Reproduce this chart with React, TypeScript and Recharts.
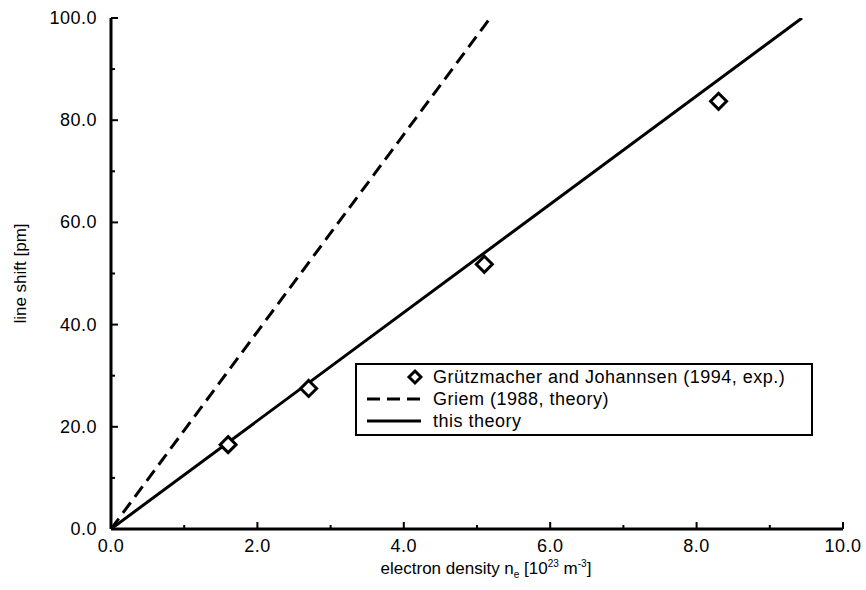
import {
  ComposedChart,
  Line,
  Scatter,
  XAxis,
  YAxis,
  Legend,
} from 'recharts';

const FONT = '"Liberation Sans", Arial, Helvetica, sans-serif';

// measured shifts (Grützmacher and Johannsen 1994)
const expDensity = [1.6, 2.7, 5.1, 8.3];
const expShift = [16.5, 27.5, 51.8, 83.7];

// straight lines through origin, end points where they leave the frame
const griemDensity = [0, 5.18];
const griemShift = [0, 100];
const theoryDensity = [0, 9.44];
const theoryShift = [0, 100];

const xTicks = [0, 1, 2, 3, 4, 5, 6, 7, 8, 9, 10];
const yTicks = [0, 10, 20, 30, 40, 50, 60, 70, 80, 90, 100];
const xMajorStep = 2;
const yMajorStep = 20;

const LEGEND_ITEMS = [
  { key: 'exp', label: 'Grützmacher and Johannsen (1994, exp.)' },
  { key: 'griem', label: 'Griem (1988, theory)' },
  { key: 'theory', label: 'this theory' },
];

const toPoints = (xs: number[], ys: number[]) => xs.map((x, i) => ({ x, y: ys[i] }));

const expData = toPoints(expDensity, expShift);
const griemData = toPoints(griemDensity, griemShift);
const theoryData = toPoints(theoryDensity, theoryShift);

const isMajor = (v: number, step: number) => Math.abs(v / step - Math.round(v / step)) < 1e-6;

// inward tick marks, labels only on major ticks
const BottomTick = ({ x, y, payload }: any) => {
  const major = isMajor(payload.value, xMajorStep);
  return (
    <g>
      <line x1={x} x2={x} y1={y} y2={y - (major ? 7 : 4)} stroke="#000" strokeWidth={2} />
      {major && (
        <text
          x={x}
          y={y + 23}
          textAnchor="middle"
          fontFamily={FONT}
          fontSize={18}
          letterSpacing={0.5}
          fill="#000"
        >
          {payload.value.toFixed(1)}
        </text>
      )}
    </g>
  );
};

const TopTick = ({ x, y, payload }: any) => {
  const major = isMajor(payload.value, xMajorStep);
  return <line x1={x} x2={x} y1={y} y2={y + (major ? 7 : 4)} stroke="#000" strokeWidth={2} />;
};

const LeftTick = ({ x, y, payload }: any) => {
  const major = isMajor(payload.value, yMajorStep);
  return (
    <g>
      <line x1={x} x2={x + (major ? 7 : 4)} y1={y} y2={y} stroke="#000" strokeWidth={2} />
      {major && (
        <text
          x={x - 14}
          y={y + 6}
          textAnchor="end"
          fontFamily={FONT}
          fontSize={18}
          letterSpacing={0.5}
          fill="#000"
        >
          {payload.value.toFixed(1)}
        </text>
      )}
    </g>
  );
};

const RightTick = ({ x, y, payload }: any) => {
  const major = isMajor(payload.value, yMajorStep);
  return <line x1={x} x2={x - (major ? 7 : 4)} y1={y} y2={y} stroke="#000" strokeWidth={2} />;
};

const Diamond = ({ cx, cy, size = 8 }: any) => (
  <polygon
    points={`${cx},${cy - size} ${cx + size},${cy} ${cx},${cy + size} ${cx - size},${cy}`}
    fill="#fff"
    stroke="#000"
    strokeWidth={3}
  />
);

const XLabel = ({ viewBox }: any) => {
  const cx = viewBox.x + viewBox.width / 2 + 9;
  return (
    <text x={cx} y={viewBox.y + 45} textAnchor="middle" fontFamily={FONT} fontSize={17} fill="#000">
      electron density n
      <tspan fontSize={10} dy={4}>e</tspan>
      <tspan dy={-4}> [10</tspan>
      <tspan fontSize={10} dy={-7}>23</tspan>
      <tspan dy={7}> m</tspan>
      <tspan fontSize={10} dy={-7}>-3</tspan>
      <tspan dy={7}>]</tspan>
    </text>
  );
};

const YLabel = ({ viewBox }: any) => {
  const x = 20;
  const y = viewBox.y + viewBox.height / 2;
  return (
    <text
      x={x}
      y={y}
      transform={`rotate(-90, ${x}, ${y})`}
      textAnchor="middle"
      dominantBaseline="central"
      fontFamily={FONT}
      fontSize={17}
      fill="#000"
    >
      line shift [pm]
    </text>
  );
};

const LegendSymbol = ({ kind }: { kind: string }) => (
  <svg width={58} height={20} style={{ display: 'block' }}>
    {kind === 'exp' && <Diamond cx={50} cy={10} size={6} />}
    {kind === 'griem' && (
      <line x1={2} x2={56} y1={10} y2={10} stroke="#000" strokeWidth={3} strokeDasharray="13 7" />
    )}
    {kind === 'theory' && <line x1={2} x2={56} y1={10} y2={10} stroke="#000" strokeWidth={3} />}
  </svg>
);

const LegendBox = () => (
  <div
    style={{
      border: '2.5px solid #000',
      background: '#fff',
      boxSizing: 'border-box',
      width: 458,
      height: 73,
      padding: '1px 0 0 8px',
      fontFamily: FONT,
      fontSize: 18,
      letterSpacing: 0.5,
      color: '#000',
    }}
  >
    {LEGEND_ITEMS.map((it) => (
      <div key={it.key} style={{ display: 'flex', alignItems: 'center', height: 22 }}>
        <LegendSymbol kind={it.key} />
        <span style={{ marginLeft: 10, whiteSpace: 'nowrap' }}>{it.label}</span>
      </div>
    ))}
  </div>
);

export default function App() {
  return (
    <div style={{ position: 'absolute', left: 0, top: 0, width: 866, height: 590, background: '#fff' }}>
      <ComposedChart width={866} height={590} margin={{ top: 18, right: 23, bottom: 0, left: 0 }}>
        <XAxis
          dataKey="x"
          type="number"
          domain={[0, 10]}
          ticks={xTicks}
          interval={0}
          height={61}
          tickSize={0}
          tickMargin={0}
          tickLine={false}
          axisLine={{ stroke: '#000', strokeWidth: 3 }}
          tick={<BottomTick />}
          label={<XLabel />}
          allowDataOverflow
        />
        <XAxis
          xAxisId="top"
          orientation="top"
          dataKey="x"
          type="number"
          domain={[0, 10]}
          ticks={xTicks}
          interval={0}
          height={0}
          tickSize={0}
          tickMargin={0}
          tickLine={false}
          axisLine={{ stroke: '#000', strokeWidth: 3 }}
          tick={<TopTick />}
          allowDataOverflow
        />
        <YAxis
          type="number"
          domain={[0, 100]}
          ticks={yTicks}
          interval={0}
          width={111}
          tickSize={0}
          tickMargin={0}
          tickLine={false}
          axisLine={{ stroke: '#000', strokeWidth: 3 }}
          tick={<LeftTick />}
          label={<YLabel />}
          allowDataOverflow
        />
        <YAxis
          yAxisId="right"
          orientation="right"
          type="number"
          domain={[0, 100]}
          ticks={yTicks}
          interval={0}
          width={0}
          tickSize={0}
          tickMargin={0}
          tickLine={false}
          axisLine={{ stroke: '#000', strokeWidth: 3 }}
          tick={<RightTick />}
          allowDataOverflow
        />
        <Legend
          layout="vertical"
          align="center"
          verticalAlign="middle"
          content={<LegendBox />}
          wrapperStyle={{ left: 355, top: 363, width: 458, height: 73 }}
        />
        <Line
          data={griemData}
          dataKey="y"
          stroke="#000"
          strokeWidth={3}
          strokeDasharray="13 7"
          dot={false}
          activeDot={false}
          legendType="none"
          isAnimationActive={false}
        />
        <Line
          data={theoryData}
          dataKey="y"
          stroke="#000"
          strokeWidth={3}
          dot={false}
          activeDot={false}
          legendType="none"
          isAnimationActive={false}
        />
        <Scatter data={expData} dataKey="y" shape={<Diamond size={8} />} isAnimationActive={false} />
      </ComposedChart>
    </div>
  );
}
